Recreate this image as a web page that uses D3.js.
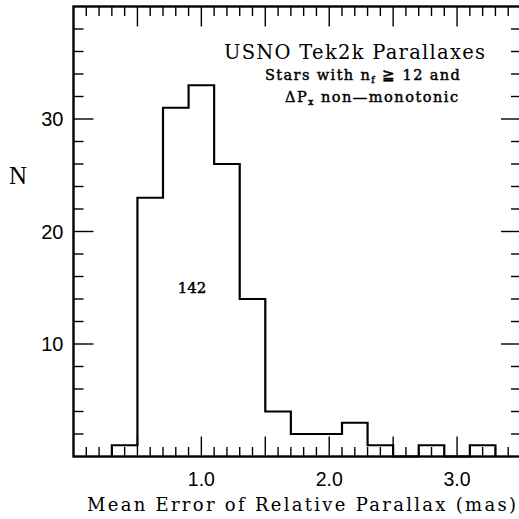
<!DOCTYPE html>
<html>
<head>
<meta charset="utf-8">
<script src="https://cdn.jsdelivr.net/npm/d3@7"></script>
<style>
  body { margin: 0; background: #fff; }
  svg { display: block; }
</style>
</head>
<body>
<svg id="viz"></svg>
<script>
const svg = d3.select("#viz");
const width = 519;
const height = 519;
svg.attr("width", width).attr("height", height);

// histogram bins (mas) and counts
const binLower = [0.3, 0.5, 0.7, 0.9, 1.1, 1.3, 1.5, 1.7, 1.9, 2.1, 2.3, 2.5, 2.7, 2.9, 3.1];
const binUpper = [0.5, 0.7, 0.9, 1.1, 1.3, 1.5, 1.7, 1.9, 2.1, 2.3, 2.5, 2.7, 2.9, 3.1, 3.3];
const counts   = [1, 23, 31, 33, 26, 14, 4, 2, 2, 3, 1, 0, 1, 0, 1];

const xTickLabels = ["1.0", "2.0", "3.0"];
const xTickValues = [1, 2, 3];
const yTickLabels = ["10", "20", "30"];
const yTickValues = [10, 20, 30];

const x = d3.scaleLinear().domain([0, 3.5]).range([73.5, 521]);
const y = d3.scaleLinear().domain([0, 40]).range([456.5, 6.5]);

const x0 = x.range()[0], x1 = x.range()[1];
const y0 = y.range()[0], y1 = y.range()[1];

// minor / major tick positions
const xMinor = d3.range(1, 35).map(i => i / 10).filter(v => Math.round(v * 10) % 5 !== 0);
const xMajor = d3.range(1, 7).map(i => i / 2);
const yMinor = d3.range(2, 40, 2).filter(v => v % 10 !== 0);
const yMajor = [10, 20, 30];

const serifMono = "DejaVu Serif, Liberation Serif, serif";

const tickG = svg.append("g").attr("stroke", "#000").attr("stroke-width", 1.4);

function xTicks(vals, len) {
  vals.forEach(v => {
    tickG.append("line").attr("x1", x(v)).attr("x2", x(v)).attr("y1", y0).attr("y2", y0 - len);
    tickG.append("line").attr("x1", x(v)).attr("x2", x(v)).attr("y1", y1).attr("y2", y1 + len);
  });
}
function yTicks(vals, len) {
  vals.forEach(v => {
    tickG.append("line").attr("x1", x0).attr("x2", x0 + len).attr("y1", y(v)).attr("y2", y(v));
    tickG.append("line").attr("x1", x1).attr("x2", x1 - len).attr("y1", y(v)).attr("y2", y(v));
  });
}
xTicks(xMinor, 9.5);
xTicks(xMajor, 20);
yTicks(yMinor, 10);
yTicks(yMajor, 20);

// histogram outline as a step line
const pts = [[binLower[0], 0]];
counts.forEach((c, i) => {
  pts.push([binLower[i], c]);
  pts.push([binUpper[i], c]);
});
pts.push([binUpper[binUpper.length - 1], 0]);

const line = d3.line().x(d => x(d[0])).y(d => y(d[1]));
svg.append("path")
  .attr("d", line(pts))
  .attr("fill", "none")
  .attr("stroke", "#000")
  .attr("stroke-width", 2.2)
  .attr("stroke-linejoin", "miter");

// frame
svg.append("rect")
  .attr("x", x0).attr("y", y1)
  .attr("width", x1 - x0).attr("height", y0 - y1)
  .attr("fill", "none")
  .attr("stroke", "#000")
  .attr("stroke-width", 2.4);

// tick labels
svg.append("g").selectAll("text")
  .data(xTickValues)
  .join("text")
  .attr("x", d => x(d))
  .attr("y", 486)
  .attr("text-anchor", "middle")
  .attr("font-family", "Liberation Sans, Arial, sans-serif")
  .attr("font-size", 19.5)
  .text((d, i) => xTickLabels[i]);

svg.append("g").selectAll("text")
  .data(yTickValues)
  .join("text")
  .attr("x", 63.5)
  .attr("y", d => y(d) + 7)
  .attr("text-anchor", "end")
  .attr("font-family", "Liberation Sans, Arial, sans-serif")
  .attr("font-size", 20)
  .text((d, i) => yTickLabels[i]);

// axis titles
svg.append("text")
  .attr("x", 87)
  .attr("y", 511)
  .attr("font-family", serifMono)
  .attr("font-size", 18)
  .attr("textLength", 429)
  .attr("lengthAdjust", "spacing")
  .text("Mean Error of Relative Parallax (mas)");

svg.append("text")
  .attr("x", 18)
  .attr("y", 184)
  .attr("text-anchor", "middle")
  .attr("font-family", "Liberation Serif, Times New Roman, serif")
  .attr("font-size", 25)
  .text("N");

// annotations
svg.append("text")
  .attr("x", 224)
  .attr("y", 59)
  .attr("font-family", serifMono)
  .attr("font-size", 19.5)
  .attr("textLength", 261)
  .attr("lengthAdjust", "spacing")
  .text("USNO Tek2k Parallaxes");

const sub1 = svg.append("text")
  .attr("x", 265)
  .attr("y", 80)
  .attr("font-family", serifMono)
  .attr("font-size", 14.5)
  .attr("stroke", "#000")
  .attr("stroke-width", 0.45)
  .attr("letter-spacing", 1.4);
sub1.append("tspan").text("Stars with n");
sub1.append("tspan").attr("font-size", 9).attr("dy", 3).text("f");
sub1.append("tspan").attr("dy", -3).text(" \u2267 12 and");

const sub2 = svg.append("text")
  .attr("x", 285)
  .attr("y", 102)
  .attr("font-family", serifMono)
  .attr("font-size", 14.5)
  .attr("stroke", "#000")
  .attr("stroke-width", 0.45)
  .attr("letter-spacing", 1.5);
sub2.append("tspan").text("\u0394P");
sub2.append("tspan").attr("font-size", 9).attr("dy", 3).text("x");
sub2.append("tspan").attr("dy", -3).text(" non\u2014monotonic");

svg.append("text")
  .attr("x", 192)
  .attr("y", 293)
  .attr("text-anchor", "middle")
  .attr("font-family", serifMono)
  .attr("font-size", 15)
  .attr("stroke", "#000")
  .attr("stroke-width", 0.45)
  .text("142");
</script>
</body>
</html>
